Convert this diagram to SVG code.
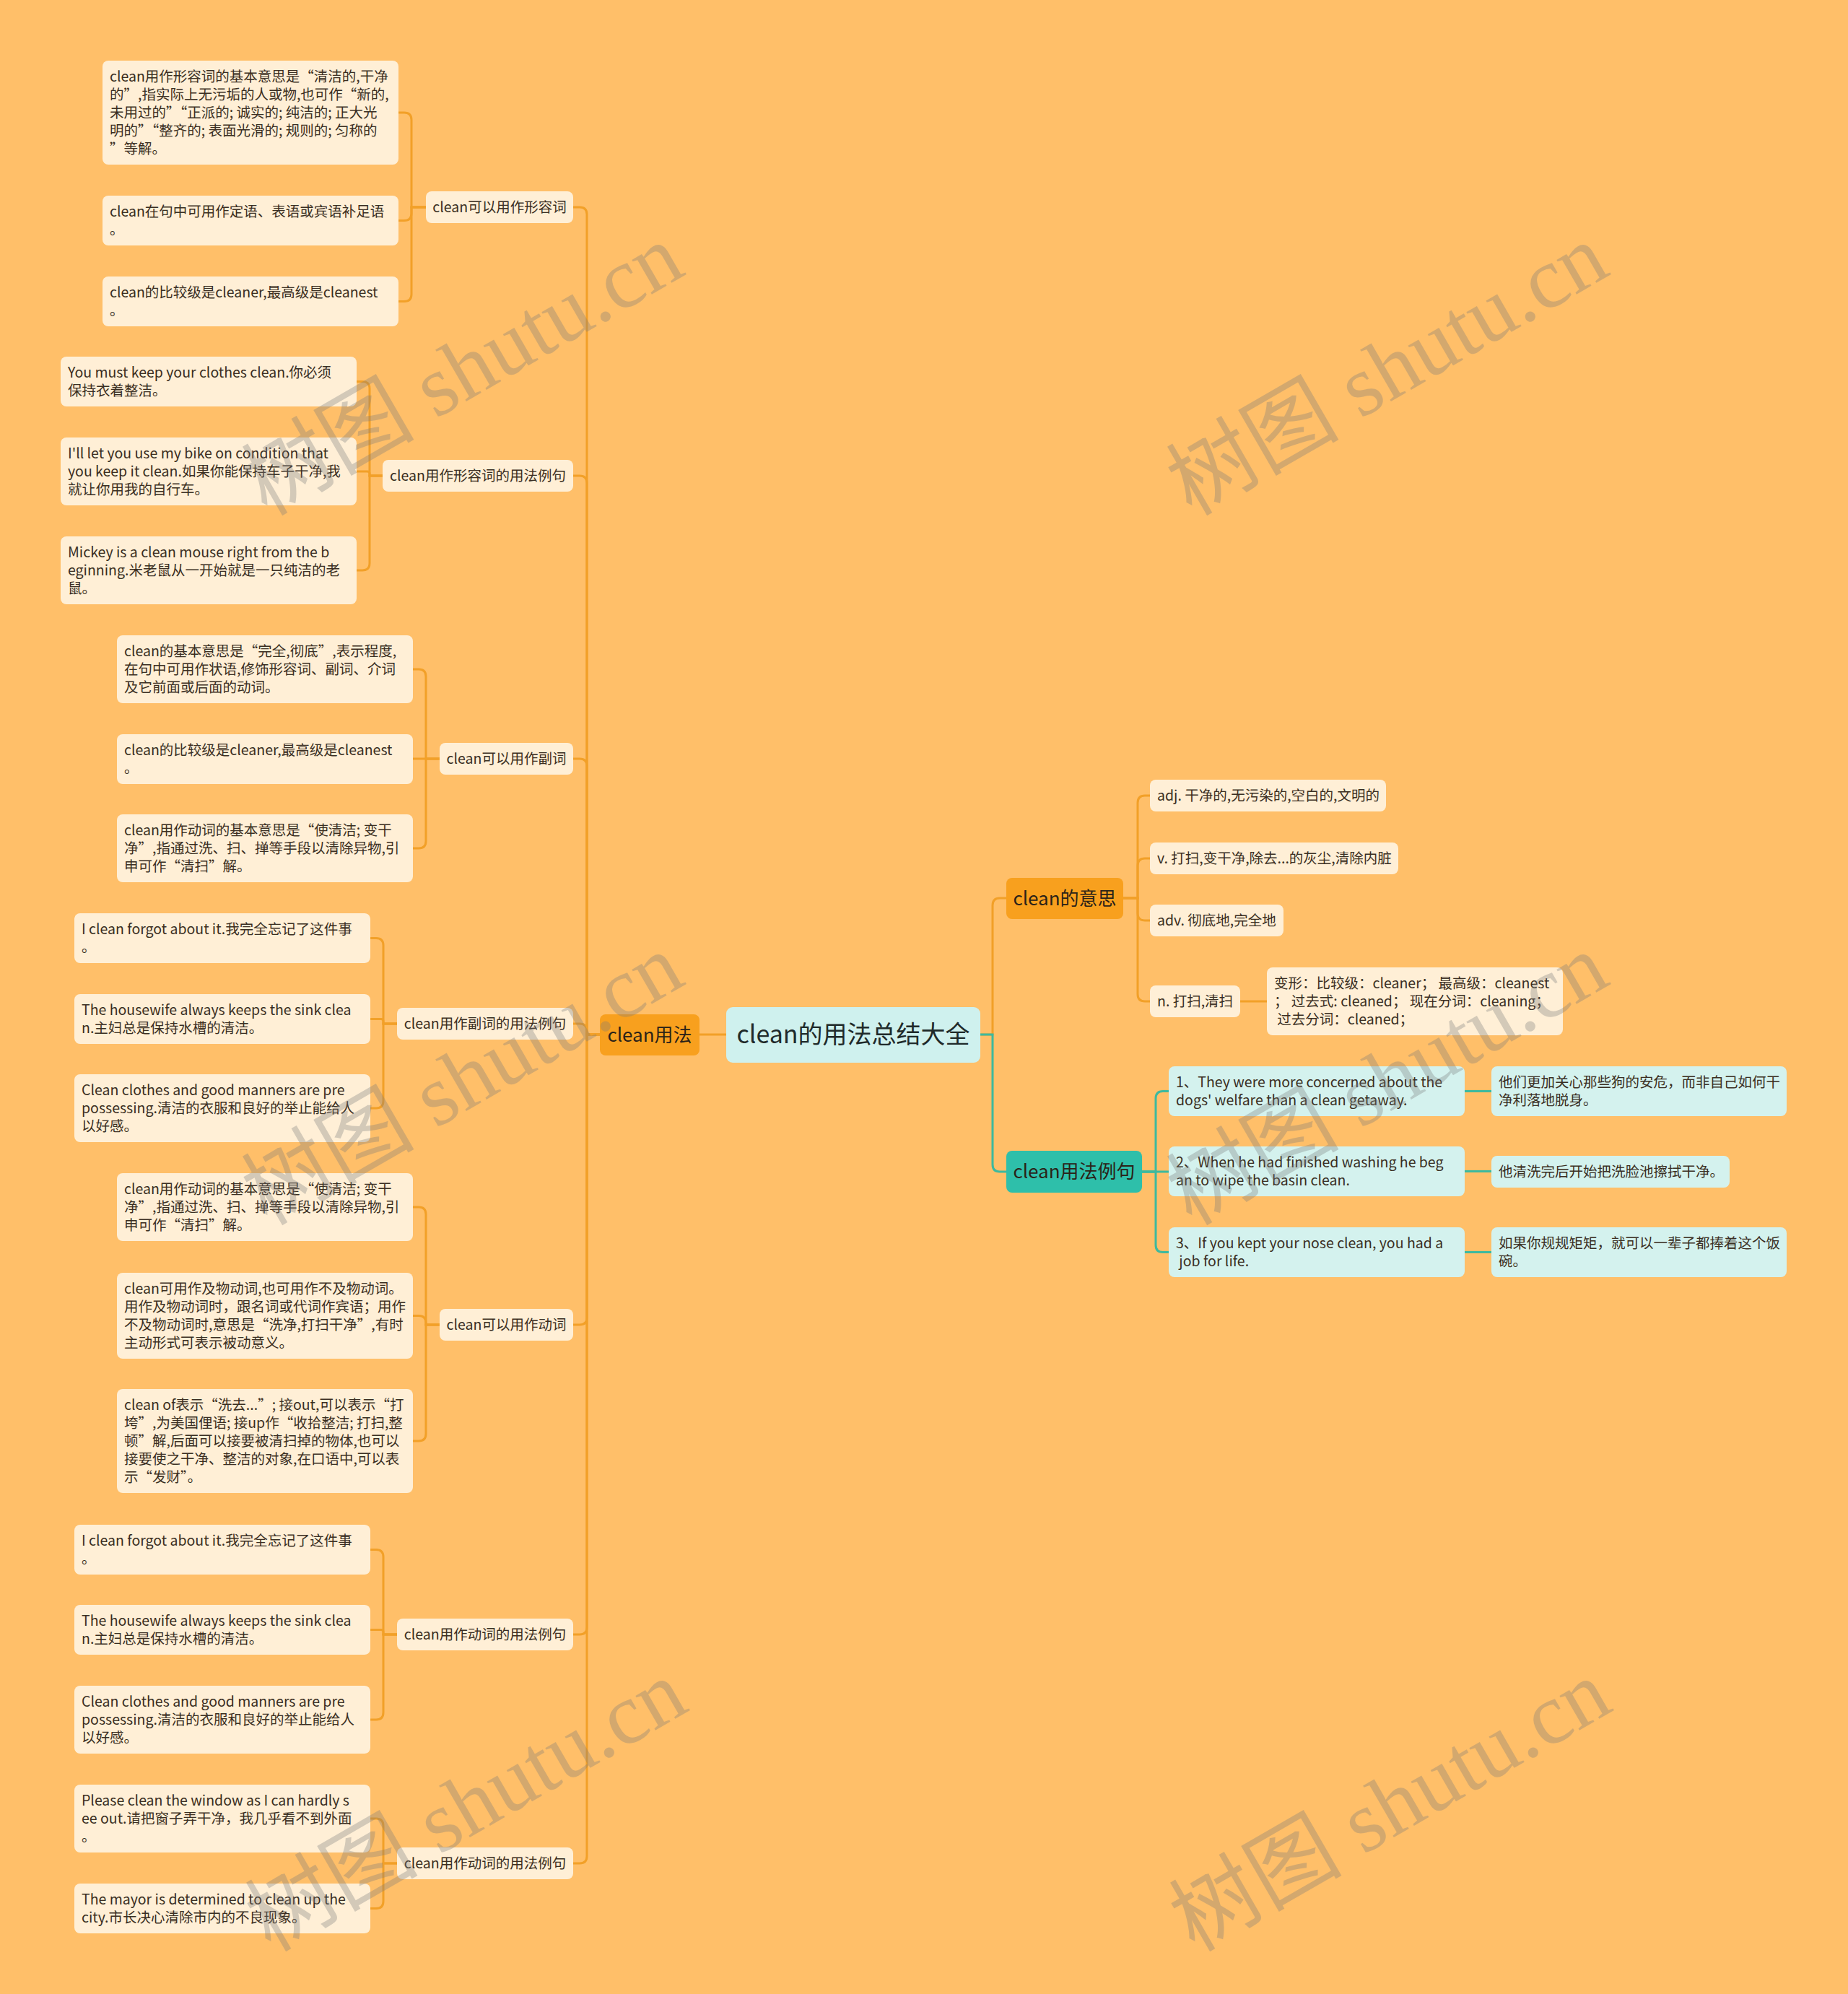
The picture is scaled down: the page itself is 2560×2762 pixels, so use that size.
<svg xmlns="http://www.w3.org/2000/svg" width="2560" height="2762" viewBox="0 0 2560 2762" xml:space="preserve">
<style>
.bg{fill:#FFBF69}
.lf{fill:#FFEFD6}
.cy{fill:#D4F2EE}
.t{font-family:'Noto Sans CJK SC','Noto Sans',sans-serif;font-size:19.5px;fill:#3a2e22;white-space:pre}
.m{text-anchor:middle}
.b1{font-family:'Noto Sans CJK SC','Noto Sans',sans-serif;font-size:26px;fill:#2a2218;text-anchor:middle}
.rt{font-family:'Noto Sans CJK SC','Noto Sans',sans-serif;font-size:34px;fill:#1f2a2a;text-anchor:middle}
.co{fill:none;stroke:#F2A028;stroke-width:3}
.ct{fill:none;stroke:#3DB99E;stroke-width:3}
.wm{font-family:'Liberation Serif','Noto Sans CJK SC',serif;font-size:120px;fill:#7a7a7a;opacity:0.32;text-anchor:middle}
</style>
<rect class="bg" x="0" y="0" width="2560" height="2762"/>

<g id="connectors">
<path class="co" d="M1006,1433 H969"/>
<path class="co" d="M1358,1433 H1375 V1254 Q1375,1244 1385,1244 H1394"/>
<path class="ct" d="M1358,1433 H1375 V1613 Q1375,1623 1385,1623 H1394"/>
<path class="co" d="M1556,1244 H1576 V1112 Q1576,1102 1586,1102 H1593"/>
<path class="co" d="M1556,1244 H1576 V1199 Q1576,1189 1586,1189 H1593"/>
<path class="co" d="M1556,1244 H1576 V1265 Q1576,1275 1586,1275 H1593"/>
<path class="co" d="M1556,1244 H1576 V1377 Q1576,1387 1586,1387 H1593"/>
<path class="co" d="M1718,1387 H1755"/>
<path class="ct" d="M1582,1623 H1601 V1521.5 Q1601,1511.5 1611,1511.5 H1619"/>
<path class="ct" d="M1582,1623 H1619"/>
<path class="ct" d="M1582,1623 H1601 V1724.5 Q1601,1734.5 1611,1734.5 H1619"/>
<path class="ct" d="M2029,1511.5 H2066"/>
<path class="ct" d="M2029,1622.5 H2066"/>
<path class="ct" d="M2029,1734.5 H2066"/>
<path class="co" d="M831,1433 H813 V297 Q813,287 803,287 H794"/>
<path class="co" d="M831,1433 H813 V669 Q813,659 803,659 H794"/>
<path class="co" d="M831,1433 H813 V1061 Q813,1051 803,1051 H794"/>
<path class="co" d="M831,1433 H813 V1428 Q813,1418 803,1418 H794"/>
<path class="co" d="M831,1433 H813 V1825 Q813,1835 803,1835 H794"/>
<path class="co" d="M831,1433 H813 V2254 Q813,2264 803,2264 H794"/>
<path class="co" d="M831,1433 H813 V2571 Q813,2581 803,2581 H794"/>
<path class="co" d="M590,287 H570 V166 Q570,156 560,156 H552"/>
<path class="co" d="M590,287 H570 V295.5 Q570,305.5 560,305.5 H552"/>
<path class="co" d="M590,287 H570 V407.5 Q570,417.5 560,417.5 H552"/>
<path class="co" d="M530,659 H512 V538.5 Q512,528.5 502,528.5 H494"/>
<path class="co" d="M530,659 H512 V656 Q512,653 509,653 H494"/>
<path class="co" d="M530,659 H512 V780 Q512,790 502,790 H494"/>
<path class="co" d="M609,1051 H590 V937 Q590,927 580,927 H572"/>
<path class="co" d="M609,1051 H572"/>
<path class="co" d="M609,1051 H590 V1165 Q590,1175 580,1175 H572"/>
<path class="co" d="M550,1418 H531 V1309.5 Q531,1299.5 521,1299.5 H513"/>
<path class="co" d="M550,1418 H531 V1414.5 Q531,1411.5 528,1411.5 H513"/>
<path class="co" d="M550,1418 H531 V1525 Q531,1535 521,1535 H513"/>
<path class="co" d="M609,1835 H590 V1682 Q590,1672 580,1672 H572"/>
<path class="co" d="M609,1835 H590 V1832.5 Q590,1822.5 580,1822.5 H572"/>
<path class="co" d="M609,1835 H590 V1986 Q590,1996 580,1996 H572"/>
<path class="co" d="M550,2264 H531 V2156.5 Q531,2146.5 521,2146.5 H513"/>
<path class="co" d="M550,2264 H531 V2260.5 Q531,2257.5 528,2257.5 H513"/>
<path class="co" d="M550,2264 H531 V2372 Q531,2382 521,2382 H513"/>
<path class="co" d="M550,2581 H531 V2529 Q531,2519 521,2519 H513"/>
<path class="co" d="M550,2581 H531 V2633.5 Q531,2643.5 521,2643.5 H513"/>
</g>

<g id="root">
<rect x="1006" y="1395" width="352" height="77" rx="9" fill="#CFF1EE"/>
<text class="rt" x="1182" y="1445">clean的用法总结大全</text>
</g>
<g id="usage">
<rect x="831" y="1405" width="138" height="57" rx="8" fill="#F8A01E"/>
<text class="b1" x="900" y="1443">clean用法</text>
</g>
<g id="meaning">
<rect x="1394" y="1216" width="162" height="57" rx="8" fill="#F8A01E"/>
<text class="b1" x="1475" y="1254">clean的意思</text>
</g>
<g id="examples">
<rect x="1394" y="1594" width="188" height="58" rx="8" fill="#2EBFAA"/>
<text class="b1" x="1488" y="1632">clean用法例句</text>
</g>

<g id="m-adj"><rect class="lf" x="1593" y="1080" width="327" height="44" rx="8"/><text class="t" x="1603" y="1109">adj. 干净的,无污染的,空白的,文明的</text></g>
<g id="m-v"><rect class="lf" x="1593" y="1167" width="344" height="44" rx="8"/><text class="t" x="1603" y="1196">v. 打扫,变干净,除去...的灰尘,清除内脏</text></g>
<g id="m-adv"><rect class="lf" x="1593" y="1253" width="185" height="44" rx="8"/><text class="t" x="1603" y="1282">adv. 彻底地,完全地</text></g>
<g id="m-n"><rect class="lf" x="1593" y="1365" width="125" height="44" rx="8"/><text class="t" x="1603" y="1394">n. 打扫,清扫</text></g>
<g id="m-forms"><rect class="lf" x="1755" y="1340" width="410" height="94" rx="8"/><text class="t" x="1765" y="1369">变形：比较级：cleaner； 最高级：cleanest</text><text class="t" x="1765" y="1394">； 过去式: cleaned； 现在分词：cleaning；</text><text class="t" x="1765" y="1419"> 过去分词：cleaned；</text></g>

<g id="ex1"><rect class="cy" x="1619" y="1477" width="410" height="69" rx="8"/><text class="t" x="1629" y="1506">1、They were more concerned about the</text><text class="t" x="1629" y="1531">dogs' welfare than a clean getaway.</text></g>
<g id="ex2"><rect class="cy" x="1619" y="1588" width="410" height="69" rx="8"/><text class="t" x="1629" y="1617">2、When he had finished washing he beg</text><text class="t" x="1629" y="1642">an to wipe the basin clean.</text></g>
<g id="ex3"><rect class="cy" x="1619" y="1700" width="410" height="69" rx="8"/><text class="t" x="1629" y="1729">3、If you kept your nose clean, you had a</text><text class="t" x="1629" y="1754"> job for life.</text></g>
<g id="tr1"><rect class="cy" x="2066" y="1477" width="409" height="69" rx="8"/><text class="t" x="2076" y="1506">他们更加关心那些狗的安危，而非自己如何干</text><text class="t" x="2076" y="1531">净利落地脱身。</text></g>
<g id="tr2"><rect class="cy" x="2066" y="1601" width="330" height="44" rx="8"/><text class="t" x="2076" y="1630">他清洗完后开始把洗脸池擦拭干净。</text></g>
<g id="tr3"><rect class="cy" x="2066" y="1700" width="409" height="69" rx="8"/><text class="t" x="2076" y="1729">如果你规规矩矩，就可以一辈子都捧着这个饭</text><text class="t" x="2076" y="1754">碗。</text></g>

<g id="adj"><rect class="lf" x="590" y="265" width="204" height="44" rx="8"/><text class="t m" x="692" y="294">clean可以用作形容词</text></g>
<g id="adj-ex"><rect class="lf" x="530" y="637" width="264" height="44" rx="8"/><text class="t m" x="662" y="666">clean用作形容词的用法例句</text></g>
<g id="adv"><rect class="lf" x="609" y="1029" width="185" height="44" rx="8"/><text class="t m" x="701.5" y="1058">clean可以用作副词</text></g>
<g id="adv-ex"><rect class="lf" x="550" y="1396" width="244" height="44" rx="8"/><text class="t m" x="672" y="1425">clean用作副词的用法例句</text></g>
<g id="verb"><rect class="lf" x="609" y="1813" width="185" height="44" rx="8"/><text class="t m" x="701.5" y="1842">clean可以用作动词</text></g>
<g id="verb-ex1"><rect class="lf" x="550" y="2242" width="244" height="44" rx="8"/><text class="t m" x="672" y="2271">clean用作动词的用法例句</text></g>
<g id="verb-ex2"><rect class="lf" x="550" y="2559" width="244" height="44" rx="8"/><text class="t m" x="672" y="2588">clean用作动词的用法例句</text></g>

<g id="a1"><rect class="lf" x="142" y="84" width="410" height="144" rx="8"/><text class="t" x="152" y="113">clean用作形容词的基本意思是“清洁的,干净</text><text class="t" x="152" y="138">的”,指实际上无污垢的人或物,也可作“新的,</text><text class="t" x="152" y="163">未用过的”“正派的; 诚实的; 纯洁的; 正大光</text><text class="t" x="152" y="188">明的”“整齐的; 表面光滑的; 规则的; 匀称的</text><text class="t" x="152" y="213">”等解。</text></g>
<g id="a2"><rect class="lf" x="142" y="271" width="410" height="69" rx="8"/><text class="t" x="152" y="300">clean在句中可用作定语、表语或宾语补足语</text><text class="t" x="152" y="325">。</text></g>
<g id="a3"><rect class="lf" x="142" y="383" width="410" height="69" rx="8"/><text class="t" x="152" y="412">clean的比较级是cleaner,最高级是cleanest</text><text class="t" x="152" y="437">。</text></g>

<g id="b1"><rect class="lf" x="84" y="494" width="410" height="69" rx="8"/><text class="t" x="94" y="523">You must keep your clothes clean.你必须</text><text class="t" x="94" y="548">保持衣着整洁。</text></g>
<g id="b2"><rect class="lf" x="84" y="606" width="410" height="94" rx="8"/><text class="t" x="94" y="635">I'll let you use my bike on condition that</text><text class="t" x="94" y="660">you keep it clean.如果你能保持车子干净,我</text><text class="t" x="94" y="685">就让你用我的自行车。</text></g>
<g id="b3"><rect class="lf" x="84" y="743" width="410" height="94" rx="8"/><text class="t" x="94" y="772">Mickey is a clean mouse right from the b</text><text class="t" x="94" y="797">eginning.米老鼠从一开始就是一只纯洁的老</text><text class="t" x="94" y="822">鼠。</text></g>

<g id="c1"><rect class="lf" x="162" y="880" width="410" height="94" rx="8"/><text class="t" x="172" y="909">clean的基本意思是“完全,彻底”,表示程度,</text><text class="t" x="172" y="934">在句中可用作状语,修饰形容词、副词、介词</text><text class="t" x="172" y="959">及它前面或后面的动词。</text></g>
<g id="c2"><rect class="lf" x="162" y="1017" width="410" height="69" rx="8"/><text class="t" x="172" y="1046">clean的比较级是cleaner,最高级是cleanest</text><text class="t" x="172" y="1071">。</text></g>
<g id="c3"><rect class="lf" x="162" y="1128" width="410" height="94" rx="8"/><text class="t" x="172" y="1157">clean用作动词的基本意思是“使清洁; 变干</text><text class="t" x="172" y="1182">净”,指通过洗、扫、掸等手段以清除异物,引</text><text class="t" x="172" y="1207">申可作“清扫”解。</text></g>

<g id="d1"><rect class="lf" x="103" y="1265" width="410" height="69" rx="8"/><text class="t" x="113" y="1294">I clean forgot about it.我完全忘记了这件事</text><text class="t" x="113" y="1319">。</text></g>
<g id="d2"><rect class="lf" x="103" y="1377" width="410" height="69" rx="8"/><text class="t" x="113" y="1406">The housewife always keeps the sink clea</text><text class="t" x="113" y="1431">n.主妇总是保持水槽的清洁。</text></g>
<g id="d3"><rect class="lf" x="103" y="1488" width="410" height="94" rx="8"/><text class="t" x="113" y="1517">Clean clothes and good manners are pre</text><text class="t" x="113" y="1542">possessing.清洁的衣服和良好的举止能给人</text><text class="t" x="113" y="1567">以好感。</text></g>

<g id="e1"><rect class="lf" x="162" y="1625" width="410" height="94" rx="8"/><text class="t" x="172" y="1654">clean用作动词的基本意思是“使清洁; 变干</text><text class="t" x="172" y="1679">净”,指通过洗、扫、掸等手段以清除异物,引</text><text class="t" x="172" y="1704">申可作“清扫”解。</text></g>
<g id="e2"><rect class="lf" x="162" y="1763" width="410" height="119" rx="8"/><text class="t" x="172" y="1792">clean可用作及物动词,也可用作不及物动词。</text><text class="t" x="172" y="1817">用作及物动词时，跟名词或代词作宾语；用作</text><text class="t" x="172" y="1842">不及物动词时,意思是“洗净,打扫干净”,有时</text><text class="t" x="172" y="1867">主动形式可表示被动意义。</text></g>
<g id="e3"><rect class="lf" x="162" y="1924" width="410" height="144" rx="8"/><text class="t" x="172" y="1953">clean of表示“洗去...”; 接out,可以表示“打</text><text class="t" x="172" y="1978">垮”,为美国俚语; 接up作“收拾整洁; 打扫,整</text><text class="t" x="172" y="2003">顿”解,后面可以接要被清扫掉的物体,也可以</text><text class="t" x="172" y="2028">接要使之干净、整洁的对象,在口语中,可以表</text><text class="t" x="172" y="2053">示“发财”。</text></g>

<g id="f1"><rect class="lf" x="103" y="2112" width="410" height="69" rx="8"/><text class="t" x="113" y="2141">I clean forgot about it.我完全忘记了这件事</text><text class="t" x="113" y="2166">。</text></g>
<g id="f2"><rect class="lf" x="103" y="2223" width="410" height="69" rx="8"/><text class="t" x="113" y="2252">The housewife always keeps the sink clea</text><text class="t" x="113" y="2277">n.主妇总是保持水槽的清洁。</text></g>
<g id="f3"><rect class="lf" x="103" y="2335" width="410" height="94" rx="8"/><text class="t" x="113" y="2364">Clean clothes and good manners are pre</text><text class="t" x="113" y="2389">possessing.清洁的衣服和良好的举止能给人</text><text class="t" x="113" y="2414">以好感。</text></g>

<g id="g1"><rect class="lf" x="103" y="2472" width="410" height="94" rx="8"/><text class="t" x="113" y="2501">Please clean the window as I can hardly s</text><text class="t" x="113" y="2526">ee out.请把窗子弄干净，我几乎看不到外面</text><text class="t" x="113" y="2551">。</text></g>
<g id="g2"><rect class="lf" x="103" y="2609" width="410" height="69" rx="8"/><text class="t" x="113" y="2638">The mayor is determined to clean up the</text><text class="t" x="113" y="2663">city.市长决心清除市内的不良现象。</text></g>

<g id="watermarks">
<text class="wm" transform="translate(640,511) rotate(-30)" y="42">树图 shutu.cn</text>
<text class="wm" transform="translate(1921,511) rotate(-30)" y="42">树图 shutu.cn</text>
<text class="wm" transform="translate(640,1494) rotate(-30)" y="42">树图 shutu.cn</text>
<text class="wm" transform="translate(1921,1494) rotate(-30)" y="42">树图 shutu.cn</text>
<text class="wm" transform="translate(645,2500) rotate(-30)" y="42">树图 shutu.cn</text>
<text class="wm" transform="translate(1925,2500) rotate(-30)" y="42">树图 shutu.cn</text>
</g>
</svg>
